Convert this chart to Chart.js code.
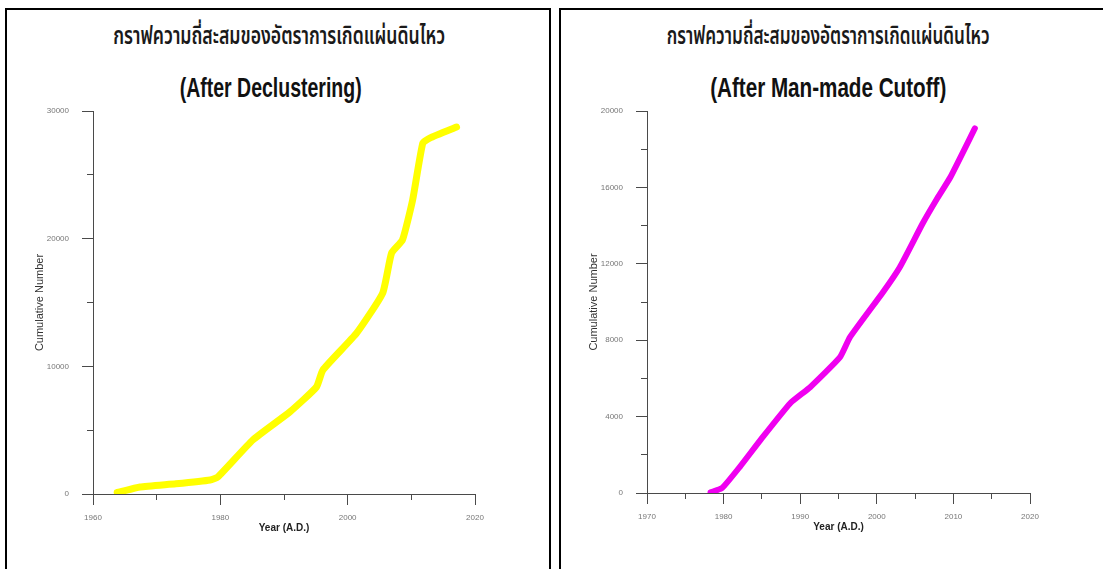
<!DOCTYPE html>
<html>
<head>
<meta charset="utf-8">
<script src="https://cdn.jsdelivr.net/npm/chart.js@4.4.1/dist/chart.umd.min.js"></script>
<style>
  html, body { margin: 0; padding: 0; background: #fff; overflow: hidden; }
  body { width: 1103px; height: 569px; position: relative; }
  .panel { position: absolute; top: 8px; height: 600px; border: 2px solid #000; box-sizing: border-box; background: #fff; }
  #panelA { left: 5px; width: 546px; }
  #panelB { left: 559px; width: 560px; }
  canvas { position: absolute; }
  .ttl { position: absolute; white-space: nowrap; color: #111; transform-origin: center center; }
  .thai { font-family: "Noto Sans Thai", "Noto Sans Thai UI", "Loma", "Garuda", "Tlwg Typo", "Noto Sans", sans-serif; font-size: 24px; font-weight: 600; color: #1a1a1a; }
  .sub { font-family: "Liberation Sans", Arial, sans-serif; font-weight: bold; font-size: 28px; }
</style>
</head>
<body>
<div class="panel" id="panelA"></div>
<div class="panel" id="panelB"></div>

<div class="ttl thai" data-cx="279" data-cy="37" data-w="332">กราฟความถี่สะสมของอัตราการเกิดแผ่นดินไหว</div>
<div class="ttl sub" data-cx="271" data-cy="88" data-w="182">(After Declustering)</div>
<div class="ttl thai" data-cx="828" data-cy="37" data-w="323">กราฟความถี่สะสมของอัตราการเกิดแผ่นดินไหว</div>
<div class="ttl sub" data-cx="828" data-cy="88" data-w="236">(After Man-made Cutoff)</div>

<canvas id="chartA" width="541" height="559" style="left:7px;top:10px;"></canvas>
<canvas id="chartB" width="542" height="559" style="left:561px;top:10px;"></canvas>

<script>
// Cumulative earthquake counts after declustering
const declusterYears  = [1963.8, 1967.4, 1973.0, 1978.4, 1979.6, 1985.1, 1990.9, 1995.1, 1996.1, 2001.4, 2005.5, 2006.9, 2008.6, 2010.2, 2011.8, 2012.9, 2017.1];
const declusterCounts = [120, 550, 800, 1100, 1330, 4230, 6420, 8380, 9710, 12600, 15740, 18870, 19890, 23020, 27480, 27880, 28740];

// Cumulative earthquake counts after the man-made cutoff
const cutoffYears  = [1978.3, 1979.8, 1982.1, 1984.8, 1988.7, 1991.3, 1995.2, 1996.5, 2000.8, 2003.0, 2006.0, 2007.9, 2009.6, 2012.8];
const cutoffCounts = [30, 260, 1360, 2770, 4700, 5540, 7110, 8160, 10510, 11820, 14120, 15430, 16530, 19090];

// Axis ranges and labelled ticks
const declusterXTicks = [1960, 1980, 2000, 2020];
const declusterYTicks = [0, 10000, 20000, 30000];
const cutoffXTicks = [1970, 1980, 1990, 2000, 2010, 2020];
const cutoffYTicks = [0, 4000, 8000, 12000, 16000, 20000];

const xTitle = 'Year (A.D.)';
const yTitle = 'Cumulative Number';

// Fit the heading texts to their widths
document.querySelectorAll('.ttl').forEach(el => {
  const w = el.getBoundingClientRect().width;
  const h = el.getBoundingClientRect().height;
  const s = (+el.dataset.w) / w;
  el.style.left = (+el.dataset.cx - w / 2) + 'px';
  el.style.top = (+el.dataset.cy - h / 2) + 'px';
  el.style.transform = 'scaleX(' + s.toFixed(3) + ')';
});

const AXIS = '#4a4a4a';

function makeChart(id, xs, ys, color, lineW, xMin, xMax, xStep, xLabels, yMax, yStep, yLabels, padBottom) {
  const pts = xs.map((x, i) => ({ x: x, y: ys[i] }));
  const majorX = v => xLabels.includes(v);
  const majorY = v => yLabels.includes(v);
  return new Chart(document.getElementById(id), {
    type: 'scatter',
    data: {
      datasets: [{
        data: pts,
        showLine: true,
        borderColor: color,
        backgroundColor: color,
        borderWidth: lineW,
        borderCapStyle: 'round',
        borderJoinStyle: 'round',
        pointRadius: 0,
        pointHoverRadius: 0,
        tension: 0.15
      }]
    },
    options: {
      responsive: false,
      animation: false,
      events: [],
      layout: { padding: { left: 0, top: 101, right: 73, bottom: padBottom } },
      plugins: { legend: { display: false }, tooltip: { enabled: false } },
      scales: {
        x: {
          type: 'linear',
          min: xMin, max: xMax,
          afterBuildTicks: s => { s.ticks = []; for (let v = xMin; v <= xMax; v += xStep) s.ticks.push({ value: v }); },
          afterFit: s => { s.height = 50; },
          border: { display: true, color: AXIS, width: 1 },
          grid: {
            drawOnChartArea: false, drawTicks: true, tickLength: 11,
            tickColor: AXIS, tickWidth: 1,
            tickBorderDash: ctx => majorX(ctx.tick.value) ? [] : [5, 40]
          },
          ticks: {
            padding: 8, color: '#777', maxRotation: 0, autoSkip: false,
            font: { family: 'Liberation Sans', size: 8 },
            callback: v => majorX(v) ? String(v) : ''
          },
          title: {
            display: true, text: xTitle, color: '#222',
            font: { family: 'Liberation Sans', size: 10, weight: 'bold', lineHeight: 1.2 },
            padding: { top: 0, bottom: 10 }
          }
        },
        y: {
          type: 'linear',
          min: 0, max: yMax,
          afterBuildTicks: s => { s.ticks = []; for (let v = 0; v <= yMax; v += yStep) s.ticks.push({ value: v }); },
          afterFit: s => { s.width = 86; },
          border: { display: true, color: AXIS, width: 1 },
          grid: {
            drawOnChartArea: false, drawTicks: true, tickLength: 11,
            tickColor: AXIS, tickWidth: 1,
            tickBorderDash: ctx => majorY(ctx.tick.value) ? [] : [0, 5, 6, 40]
          },
          ticks: {
            padding: 13, color: '#777', autoSkip: false,
            font: { family: 'Liberation Sans', size: 8 },
            callback: v => majorY(v) ? String(v) : ''
          },
          title: {
            display: true, text: yTitle, color: '#333',
            font: { family: 'Liberation Sans', size: 11, lineHeight: 1.2 },
            padding: { top: 26, bottom: 0 }
          }
        }
      }
    }
  });
}

makeChart('chartA', declusterYears, declusterCounts, '#ffff00', 7, 1960, 2020, 10, declusterXTicks, 30000, 5000, declusterYTicks, 25);
makeChart('chartB', cutoffYears, cutoffCounts, '#f000f0', 6, 1970, 2020, 5, cutoffXTicks, 20000, 2000, cutoffYTicks, 26);
</script>
</body>
</html>
